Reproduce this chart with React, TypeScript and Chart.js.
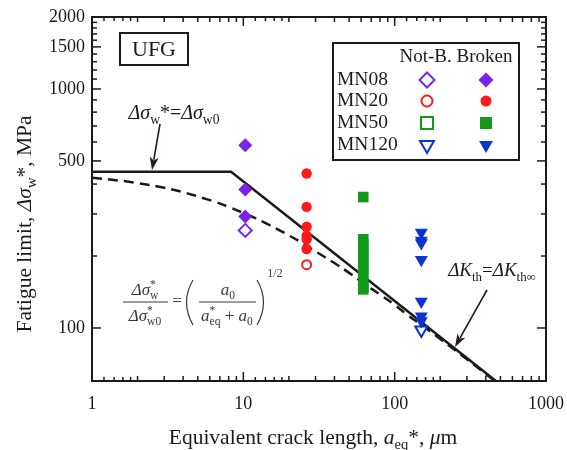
import React, { useEffect, useRef } from 'react';
import { Chart, registerables } from 'chart.js';
Chart.register(...registerables);

const FONT = '"Liberation Serif", "Times New Roman", serif';

// axis ticks
const xTickValues = [1, 10, 100, 1000];
const yTickValues = [100, 500, 1000, 1500, 2000];
const xMinorDecades = [1, 10, 100];
const xMinorMultipliers = [1.2, 1.4, 1.6, 1.8, 2, 3, 4, 5, 6, 7, 8, 9];
const yMinorTicks = [200, 300, 400, 600, 700, 800, 900, 1100, 1200, 1300, 1400, 1600, 1700, 1800, 1900];

// data (equivalent crack length in µm, fatigue limit in MPa)
const mn08X = 10.3;
const mn08Broken = [582, 380, 293];
const mn08NotBroken = [256];
const mn20X = 26.2;
const mn20Broken = [443, 321, 265, 243, 235, 214];
const mn20NotBroken = [184];
const mn50X = 62;
const mn50Broken = [353, 235, 225, 214, 204, 194, 184, 175, 166, 157, 148, 145];
const mn50NotBroken: number[] = [];
const mn120X = 150;
const mn120Broken = [251, 232, 227, 193, 129, 112, 107];
const mn120NotBroken = [98];

// limit lines
const solidX = [1, 8.3, 1000];
const solidY = [450, 450, 41];
const dashedX = [1, 1.5, 2, 3, 4, 5, 6.5, 8, 10, 12, 15, 20, 25, 30, 40, 50, 65, 80, 100, 120, 150, 200, 300, 500];
const dashedY = [425, 414, 404, 386, 370, 355, 337, 321, 303, 288, 269, 244, 225, 209, 187, 170, 151, 138, 125, 114, 103, 90, 74, 57.5];

const PURPLE = '#7a22e6';
const RED = '#ff1a1a';
const GREEN = '#15991a';
const BLUE = '#0a35d0';
const INK = '#1a1a1a';

type Seg = { t: string; it?: boolean; sub?: string; sup?: string; subIt?: boolean };

function segFont(size: number, it?: boolean) {
  return `${it ? 'italic ' : ''}${size}px ${FONT}`;
}

function measureRich(ctx: CanvasRenderingContext2D, segs: Seg[], size: number) {
  let w = 0;
  for (const s of segs) {
    ctx.font = segFont(size, s.it);
    w += ctx.measureText(s.t).width;
    const ss = size * 0.68;
    let extra = 0;
    if (s.sub) { ctx.font = segFont(ss, s.subIt); extra = Math.max(extra, ctx.measureText(s.sub).width); }
    if (s.sup) { ctx.font = segFont(ss, false); extra = Math.max(extra, ctx.measureText(s.sup).width); }
    w += extra;
  }
  return w;
}

function drawRich(ctx: CanvasRenderingContext2D, segs: Seg[], x: number, yMid: number, size: number, align: 'left' | 'center' = 'center') {
  const total = measureRich(ctx, segs, size);
  let cx = align === 'center' ? x - total / 2 : x;
  const base = yMid + size * 0.33;
  ctx.textAlign = 'left';
  ctx.textBaseline = 'alphabetic';
  for (const s of segs) {
    ctx.font = segFont(size, s.it);
    ctx.fillText(s.t, cx, base);
    cx += ctx.measureText(s.t).width;
    const ss = size * 0.68;
    let extra = 0;
    if (s.sub) {
      ctx.font = segFont(ss, s.subIt);
      ctx.fillText(s.sub, cx, base + size * 0.25);
      extra = Math.max(extra, ctx.measureText(s.sub).width);
    }
    if (s.sup) {
      ctx.font = segFont(ss, false);
      ctx.fillText(s.sup, cx, base - size * 0.38);
      extra = Math.max(extra, ctx.measureText(s.sup).width);
    }
    cx += extra;
  }
}

function arrow(ctx: CanvasRenderingContext2D, x1: number, y1: number, x2: number, y2: number) {
  const ang = Math.atan2(y2 - y1, x2 - x1);
  const hl = 13, hw = 4.5;
  ctx.save();
  ctx.strokeStyle = '#2a1a1a';
  ctx.fillStyle = '#2a1a1a';
  ctx.lineWidth = 1.6;
  ctx.beginPath();
  ctx.moveTo(x1, y1);
  ctx.lineTo(x2 - Math.cos(ang) * hl * 0.8, y2 - Math.sin(ang) * hl * 0.8);
  ctx.stroke();
  ctx.beginPath();
  ctx.moveTo(x2, y2);
  ctx.lineTo(x2 - Math.cos(ang) * hl - Math.sin(ang) * hw, y2 - Math.sin(ang) * hl + Math.cos(ang) * hw);
  ctx.lineTo(x2 - Math.cos(ang) * hl * 0.75, y2 - Math.sin(ang) * hl * 0.75);
  ctx.lineTo(x2 - Math.cos(ang) * hl + Math.sin(ang) * hw, y2 - Math.sin(ang) * hl - Math.cos(ang) * hw);
  ctx.closePath();
  ctx.fill();
  ctx.restore();
}

function marker(ctx: CanvasRenderingContext2D, style: string, x: number, y: number, r: number, color: string, filled: boolean) {
  ctx.save();
  ctx.beginPath();
  if (style === 'rectRot') {
    ctx.moveTo(x, y - r); ctx.lineTo(x + r, y); ctx.lineTo(x, y + r); ctx.lineTo(x - r, y); ctx.closePath();
  } else if (style === 'circle') {
    ctx.arc(x, y, r, 0, Math.PI * 2);
  } else if (style === 'rect') {
    const h = r * Math.SQRT1_2;
    ctx.rect(x - h, y - h, 2 * h, 2 * h);
  } else {
    const w = r * Math.sqrt(3) / 2;
    ctx.moveTo(x - w, y - r / 2); ctx.lineTo(x + w, y - r / 2); ctx.lineTo(x, y + r); ctx.closePath();
  }
  if (filled) { ctx.fillStyle = color; ctx.fill(); }
  else { ctx.fillStyle = '#fff'; ctx.fill(); ctx.strokeStyle = color; ctx.lineWidth = 2; ctx.stroke(); }
  ctx.restore();
}

const decorPlugin = {
  id: 'decor',
  afterDraw(chart: any) {
    const ctx: CanvasRenderingContext2D = chart.ctx;
    const { left, right, top, bottom } = chart.chartArea;
    const xs = chart.scales.x;
    const ys = chart.scales.y;
    ctx.save();
    // frame
    ctx.strokeStyle = INK;
    ctx.lineWidth = 2;
    ctx.strokeRect(left, top, right - left, bottom - top);
    // ticks
    ctx.lineWidth = 1.5;
    const tick = (x1: number, y1: number, x2: number, y2: number) => {
      ctx.beginPath(); ctx.moveTo(x1, y1); ctx.lineTo(x2, y2); ctx.stroke();
    };
    for (const v of xTickValues) {
      const px = xs.getPixelForValue(v);
      tick(px, bottom, px, bottom - 9);
      tick(px, top, px, top + 9);
    }
    for (const d of xMinorDecades) {
      for (const m of xMinorMultipliers) {
        const px = xs.getPixelForValue(d * m);
        const len = m < 2 ? 4 : 5;
        tick(px, bottom, px, bottom - len);
        tick(px, top, px, top + len);
      }
    }
    for (const v of yTickValues) {
      const py = ys.getPixelForValue(v);
      tick(left, py, left + 9, py);
      tick(right, py, right - 9, py);
    }
    for (const v of yMinorTicks) {
      const py = ys.getPixelForValue(v);
      tick(left, py, left + 5, py);
      tick(right, py, right - 5, py);
    }

    ctx.fillStyle = INK;
    // axis titles
    drawRich(ctx, [
      { t: 'Equivalent crack length, ' },
      { t: 'a', it: true, sub: 'eq' },
      { t: '*, ' },
      { t: 'μ', it: true },
      { t: 'm' },
    ], 313, 437, 21.5);
    ctx.save();
    ctx.translate(24, 224);
    ctx.rotate(-Math.PI / 2);
    drawRich(ctx, [
      { t: 'Fatigue limit, ' },
      { t: 'Δσ', it: true, sub: 'w' },
      { t: '*, MPa' },
    ], 0, 0, 21.5);
    ctx.restore();

    // UFG box
    ctx.lineWidth = 2;
    ctx.strokeRect(120, 33, 68, 32);
    ctx.font = `22px ${FONT}`;
    ctx.textAlign = 'center';
    ctx.textBaseline = 'middle';
    ctx.fillText('UFG', 154, 50);

    // legend
    ctx.fillStyle = '#fff';
    ctx.fillRect(333, 43, 186, 117);
    ctx.strokeStyle = INK;
    ctx.strokeRect(333, 43, 186, 117);
    ctx.fillStyle = INK;
    ctx.font = `19px ${FONT}`;
    ctx.textAlign = 'center';
    ctx.textBaseline = 'middle';
    ctx.fillText('Not-B. Broken', 456, 57);
    const rows: [string, string, string, number][] = [
      ['MN08', 'rectRot', PURPLE, 7.5],
      ['MN20', 'circle', RED, 5.5],
      ['MN50', 'rect', GREEN, 8.5],
      ['MN120', 'triangle', BLUE, 8],
    ];
    const rowY = [80, 101, 123, 145];
    rows.forEach((r, i) => {
      ctx.fillStyle = INK;
      ctx.font = `19.5px ${FONT}`;
      ctx.textAlign = 'left';
      ctx.fillText(r[0], 337, rowY[i]);
      marker(ctx, r[1], 427, rowY[i], r[3], r[2], false);
      marker(ctx, r[1], 486, rowY[i], r[3], r[2], true);
    });

    // annotations
    ctx.fillStyle = INK;
    drawRich(ctx, [
      { t: 'Δσ', it: true, sub: 'w' },
      { t: '*=' },
      { t: 'Δσ', it: true, sub: 'w0' },
    ], 174, 112, 20);
    arrow(ctx, 160, 124, 152, 170);

    drawRich(ctx, [
      { t: 'ΔK', it: true, sub: 'th' },
      { t: '=' },
      { t: 'ΔK', it: true, sub: 'th∞' },
    ], 492, 270, 19);
    arrow(ctx, 487, 290, 455, 347);

    // formula
    ctx.fillStyle = '#3a3a3a';
    ctx.strokeStyle = '#3a3a3a';
    drawRich(ctx, [{ t: 'Δσ', it: true, sub: 'w', sup: '*' }], 145, 289, 17);
    drawRich(ctx, [{ t: 'Δσ', it: true, sub: 'w0', sup: '*' }], 145, 315, 17);
    ctx.lineWidth = 1.2;
    ctx.beginPath(); ctx.moveTo(123, 302); ctx.lineTo(168, 302); ctx.stroke();
    ctx.font = `17px ${FONT}`;
    ctx.textAlign = 'center';
    ctx.textBaseline = 'middle';
    ctx.fillText('=', 177, 302);
    ctx.beginPath(); ctx.moveTo(193, 280); ctx.quadraticCurveTo(180, 302, 193, 325); ctx.stroke();
    ctx.beginPath(); ctx.moveTo(257, 280); ctx.quadraticCurveTo(270, 302, 257, 325); ctx.stroke();
    drawRich(ctx, [{ t: 'a', it: true, sub: '0' }], 228, 289, 17);
    drawRich(ctx, [{ t: 'a', it: true, sub: 'eq', sup: '*' }, { t: ' + ' }, { t: 'a', it: true, sub: '0' }], 227, 315, 17);
    ctx.beginPath(); ctx.moveTo(199, 302); ctx.lineTo(256, 302); ctx.stroke();
    ctx.font = `12px ${FONT}`;
    ctx.textAlign = 'center';
    ctx.fillText('1/2', 275, 277);

    ctx.restore();
  },
};

function pts(x: number, ys: number[]) {
  return ys.map((y) => ({ x, y }));
}

const noPad = (s: any) => { s.paddingLeft = 0; s.paddingRight = 0; s.paddingTop = 0; s.paddingBottom = 0; };

export default function App() {
  const ref = useRef<HTMLCanvasElement | null>(null);
  useEffect(() => {
    if (!ref.current) return;
    const scatterBase = { showLine: false, order: 1 };
    const chart = new Chart(ref.current, {
      type: 'scatter',
      data: {
        datasets: [
          { ...scatterBase, label: 'MN08 Broken', data: pts(mn08X, mn08Broken), pointStyle: 'rectRot', pointRadius: 7, backgroundColor: PURPLE, borderColor: PURPLE, borderWidth: 0 },
          { ...scatterBase, label: 'MN08 Not-B.', data: pts(mn08X, mn08NotBroken), pointStyle: 'rectRot', pointRadius: 6.5, backgroundColor: '#fff', borderColor: PURPLE, borderWidth: 2 },
          { ...scatterBase, label: 'MN20 Broken', data: pts(mn20X, mn20Broken), pointStyle: 'circle', pointRadius: 5.2, backgroundColor: RED, borderColor: RED, borderWidth: 0 },
          { ...scatterBase, label: 'MN20 Not-B.', data: pts(mn20X, mn20NotBroken), pointStyle: 'circle', pointRadius: 4.5, backgroundColor: '#fff', borderColor: RED, borderWidth: 2 },
          { ...scatterBase, label: 'MN50 Broken', data: pts(mn50X, mn50Broken), pointStyle: 'rect', pointRadius: 7.5, backgroundColor: GREEN, borderColor: GREEN, borderWidth: 0 },
          { ...scatterBase, label: 'MN50 Not-B.', data: pts(mn50X, mn50NotBroken), pointStyle: 'rect', pointRadius: 7, backgroundColor: '#fff', borderColor: GREEN, borderWidth: 2 },
          { ...scatterBase, label: 'MN120 Broken', data: pts(mn120X, mn120Broken), pointStyle: 'triangle', rotation: 180, pointRadius: 7.5, backgroundColor: BLUE, borderColor: BLUE, borderWidth: 0 },
          { ...scatterBase, label: 'MN120 Not-B.', data: pts(mn120X, mn120NotBroken), pointStyle: 'triangle', rotation: 180, pointRadius: 7, backgroundColor: '#fff', borderColor: BLUE, borderWidth: 2 },
          { label: 'ΔKth limit', data: solidX.map((x, i) => ({ x, y: solidY[i] })), showLine: true, pointRadius: 0, borderColor: INK, borderWidth: 2.5, order: 5 },
          { label: 'El Haddad', data: dashedX.map((x, i) => ({ x, y: dashedY[i] })), showLine: true, pointRadius: 0, borderColor: INK, borderWidth: 2.5, borderDash: [10, 6], tension: 0.4, order: 6 },
        ] as any,
      },
      options: {
        animation: false,
        responsive: false,
        devicePixelRatio: 1,
        events: [],
        layout: { padding: { top: 17, right: 21, left: 0, bottom: 0 } },
        plugins: { legend: { display: false }, tooltip: { enabled: false } },
        scales: {
          x: {
            type: 'logarithmic',
            min: 1,
            max: 1000,
            grid: { display: false, drawTicks: false },
            border: { display: false },
            afterBuildTicks: (s: any) => { s.ticks = xTickValues.map((v) => ({ value: v })); },
            afterFit: (s: any) => { s.height = 69; noPad(s); },
            ticks: { callback: (v: any) => String(v), font: { family: FONT, size: 18 }, color: INK, padding: 12, maxRotation: 0, autoSkip: false },
          },
          y: {
            type: 'logarithmic',
            min: 60,
            max: 2000,
            grid: { display: false, drawTicks: false },
            border: { display: false },
            afterBuildTicks: (s: any) => { s.ticks = yTickValues.map((v) => ({ value: v })); },
            afterFit: (s: any) => { s.width = 92; noPad(s); },
            ticks: { callback: (v: any) => String(v), font: { family: FONT, size: 18 }, color: INK, padding: 7, autoSkip: false },
          },
        },
      } as any,
      plugins: [decorPlugin],
    });
    return () => chart.destroy();
  }, []);
  return (
    <div style={{ position: 'absolute', left: 0, top: 0, width: 567, height: 450, background: '#fff' }}>
      <canvas ref={ref} width={567} height={450} style={{ display: 'block' }} />
    </div>
  );
}
